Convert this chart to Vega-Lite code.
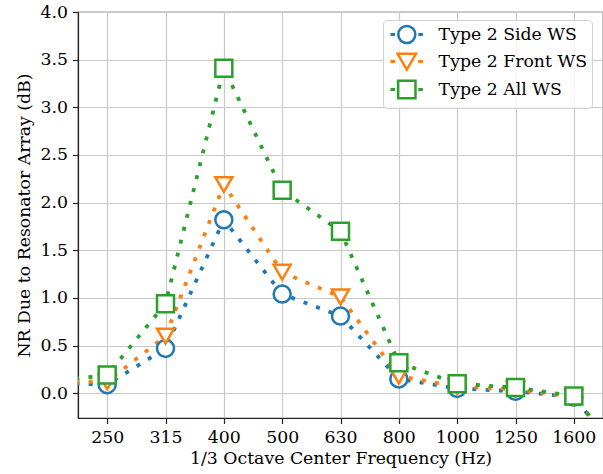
{
  "$schema": "https://vega.github.io/schema/vega-lite/v6.json",
  "width": 525,
  "height": 406,
  "autosize": {"type": "none"},
  "padding": {"left": 78, "top": 12, "right": 0, "bottom": 56},
  "background": "white",
  "config": {
    "font": "DejaVu Serif",
    "view": {"stroke": "#333333", "strokeWidth": 1.2},
    "axis": {
      "labelFont": "DejaVu Serif",
      "labelFontSize": 17.3,
      "labelColor": "#000000",
      "titleFont": "DejaVu Serif",
      "titleFontSize": 17.3,
      "titleFontWeight": "normal",
      "titleColor": "#000000",
      "gridColor": "#c8c8c8",
      "gridWidth": 1.2,
      "domainColor": "#222222",
      "domainWidth": 1.2,
      "tickColor": "#222222",
      "tickSize": 5.5,
      "tickWidth": 1.2,
      "labelPadding": 5
    },
    "legend": {
      "title": null, "orient": "none", "legendX": 305, "legendY": 8,
      "padding": 4.5, "rowPadding": 0, "symbolSize": 289, "symbolStrokeWidth": 2.5,
      "symbolOffset": 9.3, "labelOffset": 21.8,
      "labelFont": "DejaVu Serif", "labelFontSize": 17.3, "labelColor": "#000000",
      "fillColor": "rgba(255,255,255,0.8)", "strokeColor": "#d0d0d0", "cornerRadius": 4
    }
  },
  "data": {
    "values": [
      {"series": "Type 2 Side WS", "idx": -1, "freq": "200", "nr": 0.11},
      {"series": "Type 2 Side WS", "idx": 0, "freq": "250", "nr": 0.09},
      {"series": "Type 2 Side WS", "idx": 1, "freq": "315", "nr": 0.47},
      {"series": "Type 2 Side WS", "idx": 2, "freq": "400", "nr": 1.82},
      {"series": "Type 2 Side WS", "idx": 3, "freq": "500", "nr": 1.04},
      {"series": "Type 2 Side WS", "idx": 4, "freq": "630", "nr": 0.81},
      {"series": "Type 2 Side WS", "idx": 5, "freq": "800", "nr": 0.15},
      {"series": "Type 2 Side WS", "idx": 6, "freq": "1000", "nr": 0.05},
      {"series": "Type 2 Side WS", "idx": 7, "freq": "1250", "nr": 0.02},
      {"series": "Type 2 Side WS", "idx": 8, "freq": "1600", "nr": -0.04},
      {"series": "Type 2 Side WS", "idx": 9, "freq": "2000", "nr": -0.8},
      {"series": "Type 2 Front WS", "idx": -1, "freq": "200", "nr": 0.12},
      {"series": "Type 2 Front WS", "idx": 0, "freq": "250", "nr": 0.12},
      {"series": "Type 2 Front WS", "idx": 1, "freq": "315", "nr": 0.6},
      {"series": "Type 2 Front WS", "idx": 2, "freq": "400", "nr": 2.19},
      {"series": "Type 2 Front WS", "idx": 3, "freq": "500", "nr": 1.27},
      {"series": "Type 2 Front WS", "idx": 4, "freq": "630", "nr": 1.01},
      {"series": "Type 2 Front WS", "idx": 5, "freq": "800", "nr": 0.18},
      {"series": "Type 2 Front WS", "idx": 6, "freq": "1000", "nr": 0.07},
      {"series": "Type 2 Front WS", "idx": 7, "freq": "1250", "nr": 0.04},
      {"series": "Type 2 Front WS", "idx": 8, "freq": "1600", "nr": -0.04},
      {"series": "Type 2 Front WS", "idx": 9, "freq": "2000", "nr": -0.8},
      {"series": "Type 2 All WS", "idx": -1, "freq": "200", "nr": 0.12},
      {"series": "Type 2 All WS", "idx": 0, "freq": "250", "nr": 0.19},
      {"series": "Type 2 All WS", "idx": 1, "freq": "315", "nr": 0.94},
      {"series": "Type 2 All WS", "idx": 2, "freq": "400", "nr": 3.41},
      {"series": "Type 2 All WS", "idx": 3, "freq": "500", "nr": 2.13},
      {"series": "Type 2 All WS", "idx": 4, "freq": "630", "nr": 1.7},
      {"series": "Type 2 All WS", "idx": 5, "freq": "800", "nr": 0.32},
      {"series": "Type 2 All WS", "idx": 6, "freq": "1000", "nr": 0.1},
      {"series": "Type 2 All WS", "idx": 7, "freq": "1250", "nr": 0.06},
      {"series": "Type 2 All WS", "idx": 8, "freq": "1600", "nr": -0.03},
      {"series": "Type 2 All WS", "idx": 9, "freq": "2000", "nr": -0.8}
    ]
  },
  "encoding": {
    "x": {
      "field": "idx", "type": "quantitative",
      "scale": {"domain": [-0.5, 8.5], "nice": false, "zero": false},
      "axis": {
        "values": [0, 1, 2, 3, 4, 5, 6, 7, 8],
        "labelExpr": "['250','315','400','500','630','800','1000','1250','1600'][datum.value]",
        "title": "1/3 Octave Center Frequency (Hz)",
        "titlePadding": 4
      }
    },
    "y": {
      "field": "nr", "type": "quantitative",
      "scale": {"domain": [-0.26, 4.0], "nice": false, "zero": false},
      "axis": {
        "values": [0, 0.5, 1, 1.5, 2, 2.5, 3, 3.5, 4],
        "format": ".1f",
        "title": "NR Due to Resonator Array (dB)",
        "titlePadding": 7
      }
    },
    "stroke": {
      "field": "series", "type": "nominal",
      "scale": {"domain": ["Type 2 Side WS", "Type 2 Front WS", "Type 2 All WS"], "range": ["#1f77b4", "#ff7f0e", "#2ca02c"]}
    }
  },
  "layer": [
    {
      "mark": {"type": "line", "strokeWidth": 3.8, "strokeDash": [4, 9.3], "strokeCap": "butt", "clip": true}
    },
    {
      "transform": [{"filter": "datum.idx < 0"}],
      "mark": {"type": "point", "filled": false, "strokeWidth": 2.5, "size": 289, "opacity": 1, "clip": true},
      "encoding": {
        "shape": {
          "field": "series", "type": "nominal",
          "scale": {
            "domain": ["Type 2 Side WS", "Type 2 Front WS", "Type 2 All WS"],
            "range": [
              "M-1.77,-0.03H-1.53V0.03H-1.77Z M1.5,-0.03H1.75V0.03H1.5Z M1,0A1,1 0 1,1 -1,0A1,1 0 1,1 1,0Z",
              "M-1.77,-0.03H-1.53V0.03H-1.77Z M1.5,-0.03H1.75V0.03H1.5Z M0,0.95L-1.08,-0.9L1.08,-0.9Z",
              "M-1.77,-0.03H-1.53V0.03H-1.77Z M1.5,-0.03H1.75V0.03H1.5Z M-1.02,-1.02H1.02V1.02H-1.02Z"
            ]
          }
        }
      }
    },
    {
      "transform": [{"filter": "datum.idx >= 0 && datum.idx <= 8 && datum.series === 'Type 2 Side WS'"}],
      "mark": {"type": "point", "shape": "circle", "filled": true, "fill": "white", "strokeWidth": 2.5, "size": 289, "opacity": 1, "clip": true}
    },
    {
      "transform": [{"filter": "datum.idx >= 0 && datum.idx <= 8 && datum.series === 'Type 2 Front WS'"}],
      "mark": {"type": "point", "shape": "triangle-down", "filled": true, "fill": "white", "strokeWidth": 2.5, "size": 289, "opacity": 1, "clip": true}
    },
    {
      "transform": [{"filter": "datum.idx >= 0 && datum.idx <= 8 && datum.series === 'Type 2 All WS'"}],
      "mark": {"type": "point", "shape": "square", "filled": true, "fill": "white", "strokeWidth": 2.5, "size": 289, "opacity": 1, "clip": true}
    }
  ]
}
